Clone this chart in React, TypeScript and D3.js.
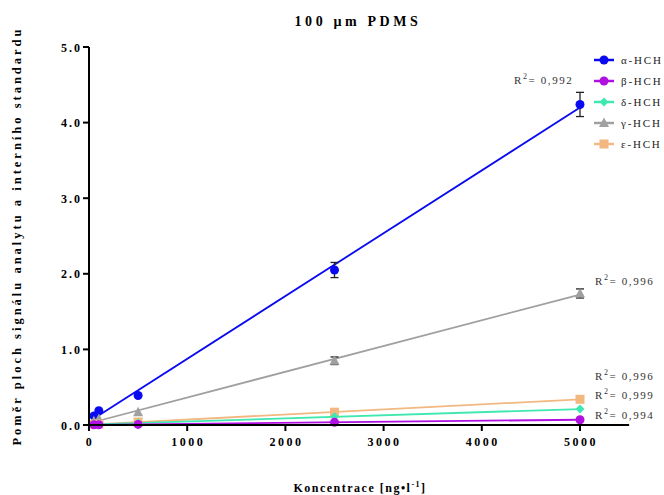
import React from "react";
import * as d3 from "d3";

const concentrations = [50, 100, 500, 2500, 5000];

const alphaValues = [0.12, 0.19, 0.39, 2.05, 4.24];
const betaValues = [0.003, 0.004, 0.008, 0.035, 0.07];
const deltaValues = [0.006, 0.01, 0.025, 0.11, 0.21];
const gammaValues = [0.05, 0.08, 0.17, 0.85, 1.74];
const epsilonValues = [0.008, 0.012, 0.04, 0.17, 0.34];

const alphaErrors = [0, 0, 0, 0.1, 0.16];
const gammaErrors = [0, 0, 0, 0.05, 0.06];

const seriesNames = ["α-HCH", "β-HCH", "δ-HCH", "γ-HCH", "ε-HCH"];
const rSquared = ["0,992", "0,994", "0,999", "0,996", "0,996"];

const xTicks = [0, 1000, 2000, 3000, 4000, 5000];
const yTicks = [0, 1, 2, 3, 4, 5];

type Series = {
  name: string;
  values: number[];
  errors: number[];
  color: string;
  shape: "circle" | "diamond" | "triangle" | "square";
  r2: string;
};

const series: Series[] = [
  { name: seriesNames[0], values: alphaValues, errors: alphaErrors, color: "#0a0af0", shape: "circle", r2: rSquared[0] },
  { name: seriesNames[1], values: betaValues, errors: [0, 0, 0, 0, 0], color: "#b010e0", shape: "circle", r2: rSquared[1] },
  { name: seriesNames[2], values: deltaValues, errors: [0, 0, 0, 0, 0], color: "#3ee8b0", shape: "diamond", r2: rSquared[2] },
  { name: seriesNames[3], values: gammaValues, errors: gammaErrors, color: "#a0a0a0", shape: "triangle", r2: rSquared[3] },
  { name: seriesNames[4], values: epsilonValues, errors: [0, 0, 0, 0, 0], color: "#f2b880", shape: "square", r2: rSquared[4] },
];

// drawing order: later series sit on top
const drawOrder = [0, 3, 4, 2, 1];

const W = 664;
const H = 495;
const x = d3.scaleLinear().domain([0, 5000]).range([89, 580]);
const y = d3.scaleLinear().domain([0, 5]).range([425, 47]);
const xAxisEnd = x(5500);

function fit(xs: number[], ys: number[]) {
  const mx = d3.mean(xs)!;
  const my = d3.mean(ys)!;
  let sxy = 0;
  let sxx = 0;
  xs.forEach((v, i) => {
    sxy += (v - mx) * (ys[i] - my);
    sxx += (v - mx) * (v - mx);
  });
  const slope = sxy / sxx;
  return { slope, intercept: my - slope * mx };
}

function Marker({ shape, cx, cy, color }: { shape: Series["shape"]; cx: number; cy: number; color: string }) {
  if (shape === "circle") return <circle cx={cx} cy={cy} r={4.5} fill={color} />;
  if (shape === "square") return <rect x={cx - 4.5} y={cy - 4.5} width={9} height={9} fill={color} />;
  if (shape === "diamond")
    return <path d={`M${cx},${cy - 4.5}L${cx + 4.5},${cy}L${cx},${cy + 4.5}L${cx - 4.5},${cy}Z`} fill={color} />;
  return <path d={`M${cx},${cy - 5.5}L${cx + 5},${cy + 4}L${cx - 5},${cy + 4}Z`} fill={color} />;
}

const font = "'Liberation Serif', 'Times New Roman', serif";

export default function App() {
  return (
    <svg width={W} height={H} style={{ position: "absolute", left: 0, top: 0, background: "#fff" }} fontFamily={font}>
      <rect width={W} height={H} fill="#fff" />
      <text x={358} y={26} textAnchor="middle" fontWeight="bold" fontSize={14} letterSpacing={3.6}>
        100 µm PDMS
      </text>

      {/* regression lines */}
      {drawOrder.map((si) => {
        const s = series[si];
        const { slope, intercept } = fit(concentrations, s.values);
        const x0 = concentrations[0];
        const x1 = concentrations[concentrations.length - 1];
        return (
          <line
            key={"l" + si}
            x1={x(x0)}
            y1={y(intercept + slope * x0)}
            x2={x(x1)}
            y2={y(intercept + slope * x1)}
            stroke={s.color}
            strokeWidth={1.8}
          />
        );
      })}

      {/* error bars and markers */}
      {drawOrder.map((si) => {
        const s = series[si];
        return (
          <g key={"m" + si}>
            {concentrations.map((c, i) =>
              s.errors[i] > 0 ? (
                <g key={i} stroke="#222" strokeWidth={1.3}>
                  <line x1={x(c)} x2={x(c)} y1={y(s.values[i] - s.errors[i])} y2={y(s.values[i] + s.errors[i])} />
                  <line x1={x(c) - 4} x2={x(c) + 4} y1={y(s.values[i] - s.errors[i])} y2={y(s.values[i] - s.errors[i])} />
                  <line x1={x(c) - 4} x2={x(c) + 4} y1={y(s.values[i] + s.errors[i])} y2={y(s.values[i] + s.errors[i])} />
                </g>
              ) : null
            )}
            {concentrations.map((c, i) => (
              <Marker key={i} shape={s.shape} cx={x(c)} cy={y(s.values[i])} color={s.color} />
            ))}
          </g>
        );
      })}

      {/* axes */}
      <line x1={x(0)} x2={x(0)} y1={y(5)} y2={y(0) + 1} stroke="#000" strokeWidth={2} />
      <line x1={x(0) - 1} x2={xAxisEnd} y1={y(0)} y2={y(0)} stroke="#000" strokeWidth={2} />
      {yTicks.map((t) => (
        <g key={"yt" + t}>
          <line x1={x(0) - 6} x2={x(0)} y1={y(t)} y2={y(t)} stroke="#000" strokeWidth={2} />
          <text x={82} y={y(t) + 4.5} textAnchor="end" fontWeight="bold" fontSize={12} letterSpacing={2}>
            {t.toFixed(1)}
          </text>
        </g>
      ))}
      {xTicks.map((t) => (
        <g key={"xt" + t}>
          <line x1={x(t)} x2={x(t)} y1={y(0)} y2={y(0) + 6} stroke="#000" strokeWidth={2} />
          <text x={x(t) + 1} y={446} textAnchor="middle" fontWeight="bold" fontSize={12} letterSpacing={2.5}>
            {t}
          </text>
        </g>
      ))}

      <text x={360} y={492} textAnchor="middle" fontWeight="bold" fontSize={12} letterSpacing={1.5}>
        Koncentrace [ng•l<tspan dy={-5} fontSize={8}>-1</tspan>
        <tspan dy={5}>]</tspan>
      </text>
      <text
        transform={`translate(21,236) rotate(-90)`}
        textAnchor="middle"
        fontWeight="bold"
        fontSize={12.5}
        letterSpacing={3}
      >
        Poměr ploch signálu analytu a interního standardu
      </text>

      {/* R² labels */}
      {[
        { si: 0, lx: 514, ly: 84 },
        { si: 3, lx: 595, ly: 285 },
        { si: 4, lx: 595, ly: 380 },
        { si: 2, lx: 595, ly: 399 },
        { si: 1, lx: 595, ly: 419 },
      ].map(({ si, lx, ly }) => (
        <text key={"r" + si} x={lx} y={ly} fontSize={11} letterSpacing={1.6} fill="#333">
          R<tspan dy={-5} fontSize={8}>2</tspan>
          <tspan dy={5}>= {series[si].r2}</tspan>
        </text>
      ))}

      {/* legend */}
      {series.map((s, i) => {
        const ly = 60 + i * 21;
        return (
          <g key={"lg" + i}>
            <line x1={594} x2={614} y1={ly} y2={ly} stroke={s.color} strokeWidth={2.5} />
            <Marker shape={s.shape} cx={604} cy={ly} color={s.color} />
            <text x={621} y={ly + 4} fontSize={11} letterSpacing={1.8} fill="#222">
              {s.name}
            </text>
          </g>
        );
      })}
    </svg>
  );
}
